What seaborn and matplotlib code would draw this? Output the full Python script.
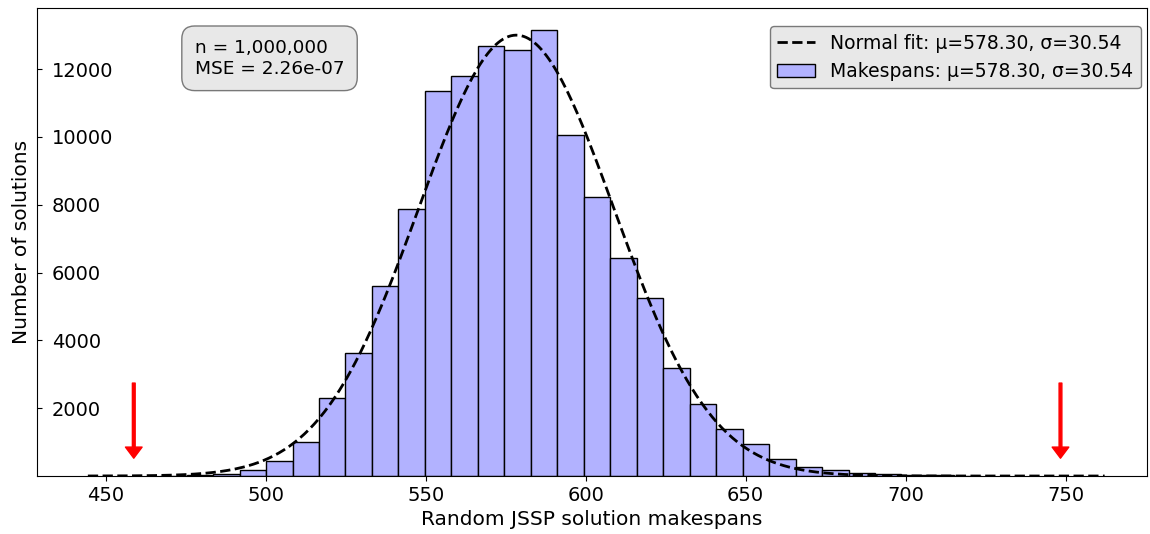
import numpy as np
import pandas as pd
import matplotlib
matplotlib.use("Agg")
import matplotlib.pyplot as plt
import seaborn as sns
from matplotlib.patches import Patch
from matplotlib.lines import Line2D

# ---- data ----
bin_start = 467.0
bin_width = 8.275
counts = [5, 15, 45, 190, 435, 997, 2286, 3631, 5599, 7862, 11360, 11794,
          12670, 12572, 13150, 10070, 8236, 6425, 5260, 3171, 2127, 1390,
          950, 487, 280, 165, 90, 55, 30, 15, 5]
mu = 578.30
sigma = 30.54
fit_peak = 13000
fit_range = [444.4, 762.2]
arrow_x = [458.75, 748.4]
arrow_top = 2740
arrow_tip = 525
xticks = [450, 500, 550, 600, 650, 700, 750]
yticks = [2000, 4000, 6000, 8000, 10000, 12000]
stats_text = "n = 1,000,000\nMSE = 2.26e-07"

n_bins = len(counts)
bin_end = bin_start + bin_width * n_bins
centers = bin_start + bin_width * (np.arange(n_bins) + 0.5)
df = pd.DataFrame({"makespan": centers, "count": np.array(counts, dtype=float)})

xs = np.linspace(fit_range[0], fit_range[1], 400)
ys = fit_peak * np.exp(-0.5 * ((xs - mu) / sigma) ** 2)
fit_df = pd.DataFrame({"x": xs, "y": ys})

plt.rcParams["font.size"] = 14
fig = plt.figure(figsize=(11.5, 5.34), dpi=100)
ax = fig.add_axes([0.032, 0.1086, 0.965, 0.8764])

fill = (0.698, 0.698, 1.0)
sns.histplot(data=df, x="makespan", weights="count", binwidth=bin_width,
             binrange=(bin_start, bin_end), ax=ax,
             color=fill, alpha=1.0, edgecolor="black", linewidth=1.0)
sns.lineplot(data=fit_df, x="x", y="y", ax=ax, color="black",
             linestyle="--", linewidth=2)

for xa in arrow_x:
    ax.annotate("", xy=(xa, arrow_tip), xytext=(xa, arrow_top),
                arrowprops=dict(facecolor="red", edgecolor="red",
                                width=2, headwidth=12, headlength=8))

ax.set_xlim(428.44, 775.3)
ax.set_ylim(0, 13800)
ax.set_xticks(xticks)
ax.set_yticks(yticks)
ax.tick_params(axis="x", labelsize=14)
ax.tick_params(axis="y", labelsize=14, direction="in", pad=-10.8)
ax.set_xlabel("Random JSSP solution makespans", fontsize=14.5)
ax.set_ylabel("Number of solutions", fontsize=14.5, labelpad=4)

ax.text(0.1423, 0.934, stats_text, transform=ax.transAxes, va="top", ha="left",
        fontsize=13.3,
        bbox=dict(boxstyle="round,pad=0.7", facecolor="lightgray", alpha=0.5))

handles = [Line2D([0], [0], color="black", linestyle="--", linewidth=2),
           Patch(facecolor=fill, edgecolor="black", linewidth=1.0)]
labels = [f"Normal fit: \u03bc={mu:.2f}, \u03c3={sigma:.2f}",
          f"Makespans: \u03bc={mu:.2f}, \u03c3={sigma:.2f}"]
leg = ax.legend(handles, labels, loc="upper right", fontsize=13.5,
                fancybox=True, framealpha=0.5, borderaxespad=0,
                bbox_to_anchor=(0.9946, 0.9615))
leg.get_frame().set_facecolor("lightgray")
leg.get_frame().set_edgecolor("black")

fig.canvas.draw()
for t in ax.yaxis.get_major_ticks():
    t.label1.set_horizontalalignment("left")

fig.savefig("out.png", dpi=100)
